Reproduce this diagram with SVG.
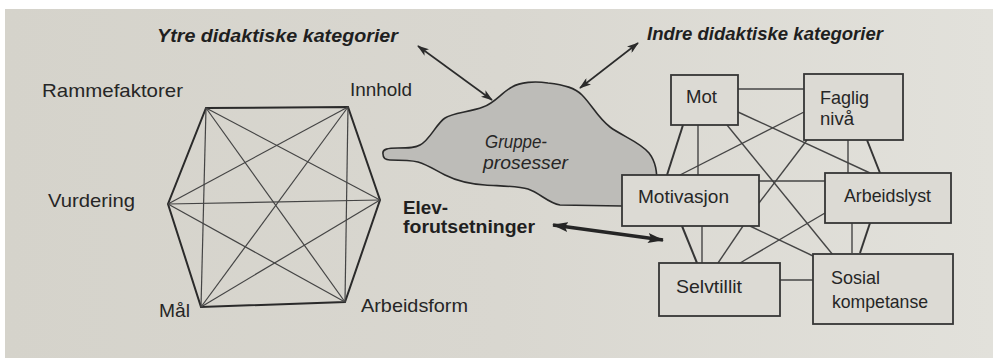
<svg xmlns="http://www.w3.org/2000/svg" width="993" height="358" viewBox="0 0 993 358">
  <defs>
    <linearGradient id="paper" x1="0" y1="0" x2="1" y2="0">
      <stop offset="0" stop-color="#d5d3cb"/>
      <stop offset="0.5" stop-color="#d9d7d0"/>
      <stop offset="1" stop-color="#e2e1db"/>
    </linearGradient>
    <marker id="head" viewBox="0 0 12 8" refX="11" refY="4" markerWidth="12" markerHeight="8" markerUnits="userSpaceOnUse" orient="auto-start-reverse">
      <path d="M0,0 L12,4 L0,8 L3,4 Z" fill="#2b2b2b"/>
    </marker>
    <marker id="headBold" viewBox="0 0 16 10" refX="15" refY="5" markerWidth="16" markerHeight="10" markerUnits="userSpaceOnUse" orient="auto-start-reverse">
      <path d="M0,0 L16,5 L0,10 L3,5 Z" fill="#252525"/>
    </marker>
    <style>
      .lbl { font-family: "Liberation Sans", Arial, sans-serif; font-size: 19px; fill: #262626; }
      .box-lbl { font-family: "Liberation Sans", Arial, sans-serif; font-size: 18.5px; fill: #262626; }
      .title { font-family: "Liberation Sans", Arial, sans-serif; font-size: 18px; font-weight: bold; font-style: italic; fill: #1f1f1f; }
      .bold { font-family: "Liberation Sans", Arial, sans-serif; font-size: 18px; font-weight: bold; fill: #1f1f1f; }
      .ital { font-family: "Liberation Sans", Arial, sans-serif; font-size: 18px; font-style: italic; fill: #262626; }
      .edge { stroke: #2a2a2a; stroke-width: 2; fill: none; stroke-linecap: round; }
      .diag { stroke: #444444; stroke-width: 1.2; fill: none; }
      .link { stroke: #454545; stroke-width: 1.4; fill: none; }
      .link-b { stroke: #353535; stroke-width: 2; fill: none; }
      .box { fill: #dcdad4; stroke: #363636; stroke-width: 1.8; }
      .arrow { stroke: #2b2b2b; stroke-width: 1.6; fill: none; }
      .arrow-b { stroke: #252525; stroke-width: 3.6; fill: none; }
    </style>
  </defs>

  <!-- paper -->
  <rect x="0" y="0" width="993" height="358" fill="#ffffff"/>
  <rect x="5" y="9" width="988" height="349" fill="url(#paper)"/>

  <!-- headings -->
  <g id="title-outer">
    <text class="title" x="157" y="42" textLength="241" lengthAdjust="spacingAndGlyphs">Ytre didaktiske kategorier</text>
  </g>
  <g id="title-inner">
    <text class="title" x="647" y="40" textLength="236" lengthAdjust="spacingAndGlyphs">Indre didaktiske kategorier</text>
  </g>

  <!-- group process cloud -->
  <g id="gruppeprosesser">
    <path d="M383,154 C382,149 388,148 398,148 C408,148 415,148 420,145 C430,140 436,124 445,118 C452,113 470,112 483,107 C495,103 502,92 512,87 C520,82 535,81 548,83 C565,85 575,88 582,95 C592,105 598,118 610,127 C622,136 640,142 649,153 C656,162 657,172 657,185 L657,206 L622,206 L560,205 C548,203 540,193 528,189 C518,186 500,186 485,185 C470,184 455,180 445,175 C435,170 428,165 418,162 C410,160 398,160 390,160 C385,160 383,158 383,154 Z" fill="#bdbcb8" stroke="#2a2a2a" stroke-width="1.6"/>
    <text class="ital" x="485" y="148" textLength="62" lengthAdjust="spacingAndGlyphs">Gruppe-</text>
    <text class="ital" x="483" y="169" textLength="85" lengthAdjust="spacingAndGlyphs">prosesser</text>
  </g>

  <!-- connectors -->
  <g id="connectors">
    <!-- outer categories: hexagon edges -->
    <path class="edge" d="M206,108 L348,107 L380,200 L345,302 L201,307 L168,204 Z"/>
    <!-- outer categories: every pair linked -->
    <line class="diag" x1="206" y1="108" x2="380" y2="200"/>
    <line class="diag" x1="206" y1="108" x2="345" y2="302"/>
    <line class="diag" x1="206" y1="108" x2="201" y2="307"/>
    <line class="diag" x1="348" y1="107" x2="168" y2="204"/>
    <line class="diag" x1="348" y1="107" x2="201" y2="307"/>
    <line class="diag" x1="348" y1="107" x2="345" y2="302"/>
    <line class="diag" x1="168" y1="204" x2="380" y2="200"/>
    <line class="diag" x1="168" y1="204" x2="345" y2="302"/>
    <line class="diag" x1="380" y1="200" x2="201" y2="307"/>

    <!-- inner categories -->
    <line class="link" x1="738" y1="89" x2="804" y2="89"/>
    <line class="link-b" x1="683" y1="125" x2="667" y2="175"/>
    <line class="link" x1="698" y1="125" x2="698" y2="175"/>
    <line class="link" x1="727" y1="125" x2="833" y2="255"/>
    <line class="link" x1="738" y1="112" x2="870" y2="173"/>
    <line class="link" x1="804" y1="112" x2="680" y2="175"/>
    <line class="link" x1="807" y1="140" x2="759" y2="203"/>
    <line class="link" x1="848" y1="140" x2="848" y2="173"/>
    <line class="link-b" x1="867" y1="140" x2="880" y2="173"/>
    <line class="link" x1="759" y1="181" x2="825" y2="181"/>
    <line class="link-b" x1="682" y1="226" x2="697" y2="263"/>
    <line class="link" x1="702" y1="226" x2="702" y2="263"/>
    <line class="link" x1="743" y1="226" x2="718" y2="263"/>
    <line class="link" x1="750" y1="226" x2="813" y2="256"/>
    <line class="link" x1="825" y1="213" x2="740" y2="263"/>
    <line class="link" x1="852" y1="223" x2="852" y2="253"/>
    <line class="link-b" x1="870" y1="223" x2="860" y2="253"/>
    <line class="link" x1="780" y1="280" x2="813" y2="280"/>

    <!-- pointers -->
    <line class="arrow" x1="418" y1="46" x2="492" y2="100" marker-start="url(#head)" marker-end="url(#head)"/>
    <line class="arrow" x1="638" y1="43" x2="580" y2="88" marker-start="url(#head)" marker-end="url(#head)"/>
    <line class="arrow-b" x1="553" y1="225" x2="663" y2="240" marker-start="url(#headBold)" marker-end="url(#headBold)"/>
  </g>

  <!-- outer category labels -->
  <g id="rammefaktorer"><text class="lbl" x="42" y="97" textLength="141" lengthAdjust="spacingAndGlyphs">Rammefaktorer</text></g>
  <g id="innhold"><text class="lbl" x="350" y="96" textLength="62" lengthAdjust="spacingAndGlyphs">Innhold</text></g>
  <g id="vurdering"><text class="lbl" x="48" y="207" textLength="87" lengthAdjust="spacingAndGlyphs">Vurdering</text></g>
  <g id="maal"><text class="lbl" x="159" y="317" textLength="31" lengthAdjust="spacingAndGlyphs">Mål</text></g>
  <g id="arbeidsform"><text class="lbl" x="361" y="312" textLength="107" lengthAdjust="spacingAndGlyphs">Arbeidsform</text></g>

  <!-- pupil prerequisites -->
  <g id="elevforutsetninger">
    <text class="bold" x="403" y="214" textLength="45" lengthAdjust="spacingAndGlyphs">Elev-</text>
    <text class="bold" x="403" y="233" textLength="132" lengthAdjust="spacingAndGlyphs">forutsetninger</text>
  </g>

  <!-- inner category boxes -->
  <g id="mot">
    <rect class="box" x="671" y="75" width="67" height="50"/>
    <text class="box-lbl" x="686" y="103" textLength="31" lengthAdjust="spacingAndGlyphs">Mot</text>
  </g>
  <g id="faglig-niva">
    <rect class="box" x="804" y="74" width="99" height="66"/>
    <text class="box-lbl" x="820" y="104" textLength="49" lengthAdjust="spacingAndGlyphs">Faglig</text>
    <text class="box-lbl" x="820" y="125" textLength="34" lengthAdjust="spacingAndGlyphs">nivå</text>
  </g>
  <g id="motivasjon">
    <rect class="box" x="622" y="175" width="137" height="51"/>
    <text class="box-lbl" x="638" y="203" textLength="91" lengthAdjust="spacingAndGlyphs">Motivasjon</text>
  </g>
  <g id="arbeidslyst">
    <rect class="box" x="825" y="173" width="126" height="50"/>
    <text class="box-lbl" x="844" y="202" textLength="87" lengthAdjust="spacingAndGlyphs">Arbeidslyst</text>
  </g>
  <g id="selvtillit">
    <rect class="box" x="659" y="263" width="121" height="53"/>
    <text class="box-lbl" x="676" y="293" textLength="66" lengthAdjust="spacingAndGlyphs">Selvtillit</text>
  </g>
  <g id="sosial-kompetanse">
    <rect class="box" x="813" y="254" width="140" height="70"/>
    <text class="box-lbl" x="831" y="284" textLength="49" lengthAdjust="spacingAndGlyphs">Sosial</text>
    <text class="box-lbl" x="832" y="308" textLength="96" lengthAdjust="spacingAndGlyphs">kompetanse</text>
  </g>
</svg>
